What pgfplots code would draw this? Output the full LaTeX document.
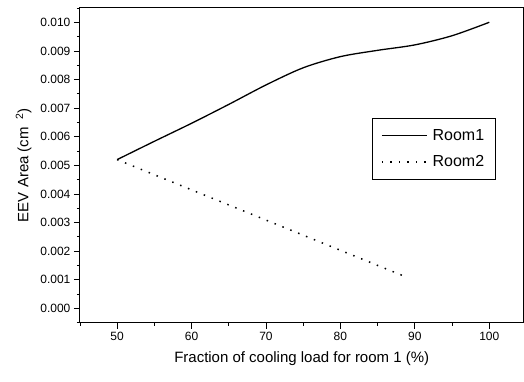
\documentclass[border=0pt]{standalone}
\usepackage{pgfplots}
\pgfplotsset{compat=1.18}
\usepackage{fontspec}
\setmainfont{Liberation Sans}
\begin{document}
\begin{tikzpicture}
\begin{axis}[
  scale only axis,
  width=444pt, height=315pt,
  xmin=45, xmax=104.6,
  ymin=-0.0005, ymax=0.0105,
  axis line style={line width=1pt},
  xtick={50,60,70,80,90,100},
  minor xtick={45,55,65,75,85,95},
  ytick={0,0.001,0.002,0.003,0.004,0.005,0.006,0.007,0.008,0.009,0.010},
  minor ytick={-0.0005,0.0005,0.0015,0.0025,0.0035,0.0045,0.0055,0.0065,0.0075,0.0085,0.0095,0.0105},
  yticklabel style={/pgf/number format/.cd,fixed,fixed zerofill,precision=3},
  scaled y ticks=false,
  /pgf/number format/assume math mode=true,
  tick label style={font=\fontsize{12}{14}\selectfont},
  tick align=outside,
  tick pos=left,
  major tick length=6pt,
  minor tick length=3pt,
  tick style={line width=0.8pt,black},
  xlabel={Fraction of cooling load for room 1 (\%)},
  ylabel={EEV Area (cm \textsuperscript{ 2})},
  label style={font=\fontsize{15}{17}\selectfont},
  xlabel style={yshift=-4pt},
  ylabel style={yshift=2pt},
  legend style={at={(0.937,0.651)},anchor=north east,draw=black,line width=0.8pt,
    font=\fontsize{16}{18}\selectfont, inner xsep=9pt, inner ysep=9pt, row sep=10pt,
    /tikz/every odd column/.append style={column sep=3pt}},
  legend cell align=left,
  legend image code/.code={\draw[#1] (0pt,0pt) -- (45pt,0pt);},
]
\addplot[black, line width=1.3pt, smooth] coordinates {
(50,0.0052)(55,0.00584)(60,0.00647)(65,0.00713)(70,0.00781)(75,0.00841)(80,0.00880)(85,0.00902)(90,0.00921)(95,0.00953)(100,0.0100)};
\addlegendentry{Room1}
\addplot[black, line width=1.5pt, dash pattern=on 1.5pt off 7pt] coordinates {
(50,0.0052)(89,0.00108)};
\addlegendentry{Room2}
\end{axis}
\path (current axis.south west) ++(-80pt,-59pt) coordinate (bl);
\path (current axis.north east) ++(0pt,8pt) coordinate (tr);
\useasboundingbox (bl) rectangle (tr);
\end{tikzpicture}
\end{document}
